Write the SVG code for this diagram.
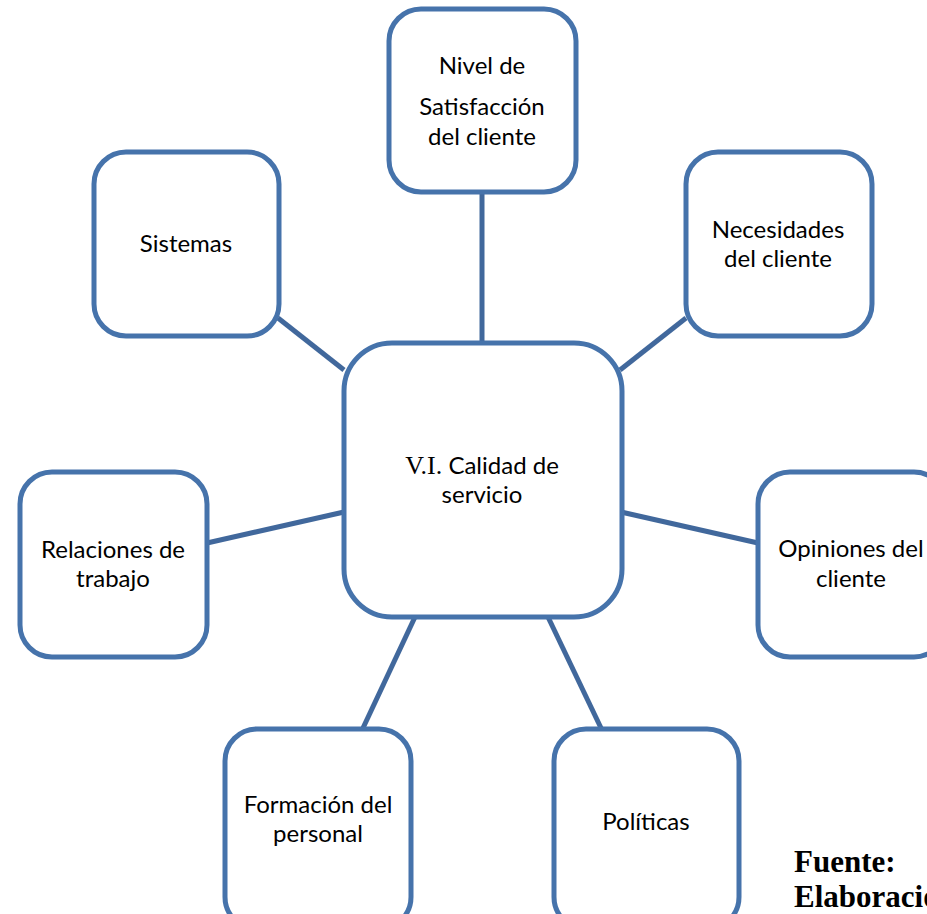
<svg xmlns="http://www.w3.org/2000/svg" width="927" height="914" viewBox="0 0 927 914">
  <style>
    .box { fill: #ffffff; stroke: #4673ab; stroke-width: 5; }
    .link { stroke: #41689c; stroke-width: 5; fill: none; }
    .lbl { font-family: Lato, "Liberation Sans", sans-serif; font-size: 24px; fill: #000000; text-anchor: middle; }
    .serif { font-family: "Liberation Serif", serif; font-size: 26px; }
    .note { font-family: "Liberation Serif", serif; font-size: 31px; font-weight: bold; fill: #000000; }
  </style>
  <rect width="927" height="914" fill="#ffffff"/>

  <!-- connectors from the central node to each factor -->
  <g id="connectors">
    <line class="link" x1="482" y1="192" x2="482" y2="343"/>
    <line class="link" x1="278" y1="318" x2="344" y2="370"/>
    <line class="link" x1="686" y1="318" x2="620" y2="370"/>
    <line class="link" x1="207" y1="543" x2="344" y2="512"/>
    <line class="link" x1="621" y1="512" x2="758" y2="543"/>
    <line class="link" x1="415" y1="617" x2="363" y2="728"/>
    <line class="link" x1="548" y1="617" x2="601" y2="728"/>
  </g>

  <g id="node-satisfaccion">
    <rect class="box" x="389" y="9" width="187" height="183" rx="32"/>
    <text class="lbl" x="482" y="74">Nivel de</text>
    <text class="lbl" x="482" y="115">Satisfacción</text>
    <text class="lbl" x="482" y="145">del cliente</text>
  </g>

  <g id="node-sistemas">
    <rect class="box" x="94" y="152" width="185" height="184" rx="32"/>
    <text class="lbl" x="186" y="252">Sistemas</text>
  </g>

  <g id="node-necesidades">
    <rect class="box" x="686" y="152" width="186" height="184" rx="32"/>
    <text class="lbl" x="778" y="238">Necesidades</text>
    <text class="lbl" x="778" y="267">del cliente</text>
  </g>

  <g id="node-central">
    <rect class="box" x="344" y="343" width="278" height="274" rx="48"/>
    <text class="lbl" x="482" y="474"><tspan class="serif">V.I.</tspan> Calidad de</text>
    <text class="lbl" x="482" y="503">servicio</text>
  </g>

  <g id="node-relaciones">
    <rect class="box" x="20" y="472" width="187" height="185" rx="32"/>
    <text class="lbl" x="113" y="558">Relaciones de</text>
    <text class="lbl" x="113" y="587">trabajo</text>
  </g>

  <g id="node-opiniones">
    <rect class="box" x="758" y="472" width="188" height="185" rx="32"/>
    <text class="lbl" x="851" y="557">Opiniones del</text>
    <text class="lbl" x="851" y="587">cliente</text>
  </g>

  <g id="node-formacion">
    <rect class="box" x="225" y="729" width="186" height="200" rx="32"/>
    <text class="lbl" x="318" y="813">Formación del</text>
    <text class="lbl" x="318" y="842">personal</text>
  </g>

  <g id="node-politicas">
    <rect class="box" x="554" y="729" width="185" height="200" rx="32"/>
    <text class="lbl" x="646" y="830">Políticas</text>
  </g>

  <g id="source-note">
    <text class="note" x="794" y="872">Fuente:</text>
    <text class="note" x="794" y="907">Elaboración</text>
  </g>
</svg>
